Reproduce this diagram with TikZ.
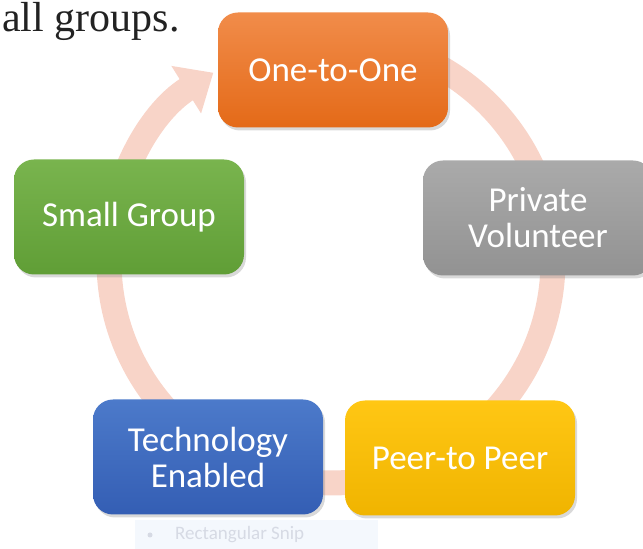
\documentclass[tikz,border=0pt]{standalone}
\usepackage{fontspec}
\newfontfamily\boxfont{Carlito}
\newfontfamily\titlefont{Liberation Serif}
\usepackage{xcolor}
\usetikzlibrary{arrows.meta}
\usetikzlibrary{shadows}
\definecolor{ringpink}{RGB}{248,212,200}
\definecolor{snipfill}{RGB}{244,248,253}
\definecolor{sniptext}{RGB}{214,218,228}
\tikzset{
    cnode/.style = {align=center, inner sep=0pt, text centered, rounded corners=20pt, minimum width=230pt, minimum height=115pt, text=white, font=\boxfont\fontsize{35}{36}\selectfont, drop shadow={shadow xshift=2pt, shadow yshift=-3pt, opacity=0.3}},
    orange_node/.style = {cnode, top color={rgb,255:red,241;green,140;blue,74}, bottom color={rgb,255:red,228;green,106;blue,24}},
    gray_node/.style = {cnode, top color={rgb,255:red,170;green,170;blue,170}, bottom color={rgb,255:red,146;green,146;blue,146}},
    yellow_node/.style = {cnode, top color={rgb,255:red,255;green,199;blue,20}, bottom color={rgb,255:red,240;green,180;blue,0}},
    blue_node/.style = {cnode, top color={rgb,255:red,76;green,122;blue,202}, bottom color={rgb,255:red,52;green,94;blue,180}},
    green_node/.style = {cnode, top color={rgb,255:red,121;green,180;blue,78}, bottom color={rgb,255:red,96;green,158;blue,54}},
    ring/.style = {draw=ringpink, line width=25pt, -{Triangle[width=54pt, length=32pt, fill=ringpink]}}
}

\begin{document}
\begin{tikzpicture}
            [x=1pt, y=1pt]

            \clip (0,0) rectangle (643,549);
            \useasboundingbox (0,0) rectangle (643,549);

            % cycle ring behind the boxes
            \coordinate (ctr) at (331,288);
            \draw [ring] (ctr) ++(90:222) arc [start angle=90, end angle=-238, radius=222];

            \node [orange_node] (one) at (333,479) {One-to-One};
            \node [gray_node] (priv) at (538,331) {Private\\Volunteer};
            \node [yellow_node] (peer) at (460,91) {Peer-to Peer};
            \node [blue_node] (tech) at (208,92) {Technology\\Enabled};
            \node [green_node] (small) at (129,332) {Small Group};

            % text above
            \node [anchor=base west, inner sep=0pt, text={rgb,255:red,34;green,34;blue,34}, font=\titlefont\fontsize{42}{46}\selectfont] (title) at (2,517) {all groups.};

            % faint snip tooltip
            \node [fill=snipfill, minimum width=243pt, minimum height=29pt, inner sep=0pt] (snip) at (256.5,14.5) {};
            \node [circle, fill=sniptext, minimum size=5pt, inner sep=0pt] (snipicon) at (150,14) {};
            \node [anchor=west, inner sep=0pt, text=sniptext, font=\boxfont\fontsize{19}{20}\selectfont] (sniplabel) at (175,14) {Rectangular Snip};
\end{tikzpicture}
\end{document}
